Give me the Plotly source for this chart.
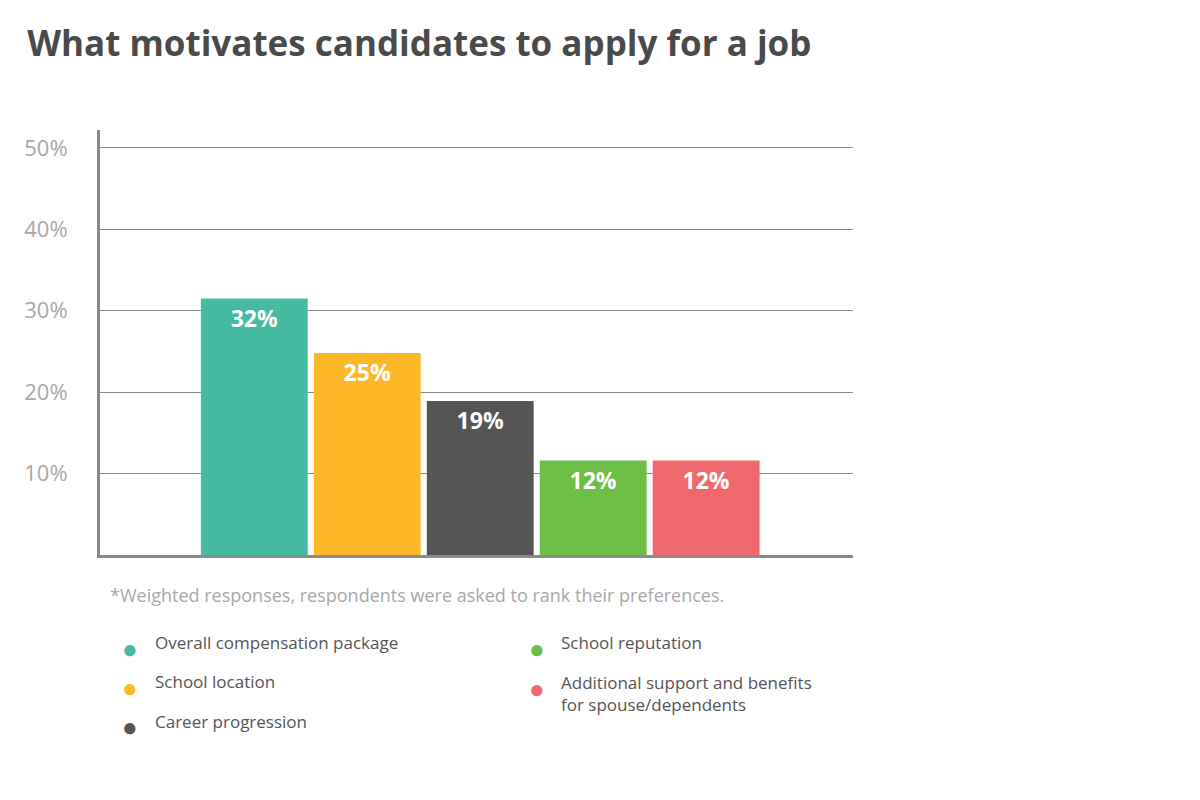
import plotly.graph_objects as go

# data
categories = ["Overall compensation package", "School location", "Career progression",
              "School reputation", "Additional support and benefits<br>for spouse/dependents"]
values = [31.5, 24.8, 18.9, 11.6, 11.6]
labels = ["32%", "25%", "19%", "12%", "12%"]
colors = ["#45BBA2", "#FDB827", "#555555", "#6CBE45", "#EF686B"]
tick_vals = [10, 20, 30, 40, 50]
tick_text = ["10%", "20%", "30%", "40%", "50%"]

fig = go.Figure()
fig.add_trace(go.Bar(
    x=list(range(len(values))), y=values, width=0.946,
    marker=dict(color=colors, line=dict(width=0)),
    text=labels, textposition="inside", insidetextanchor="end",
    textfont=dict(family="Open Sans", size=23, color="white", weight="bold"),
    showlegend=False,
))

fig.update_layout(
    width=1200, height=800, template="plotly_white",
    paper_bgcolor="white", plot_bgcolor="white",
    margin=dict(l=92, r=355, t=122, b=253),
    font=dict(family="Open Sans", color="#a0a0a0"),
    title=dict(text="<b>What motivates candidates to apply for a job</b>",
               x=0.016, xanchor="left", y=0.955, yanchor="middle",
               font=dict(family="Open Sans", size=35, color="#4a4a4a")),
)
fig.update_xaxes(range=[-1.366, 5.30], showticklabels=False, showgrid=False,
                 zeroline=False, showline=True, linecolor="#8a8a8a", linewidth=3)
fig.update_yaxes(range=[0, 52.2], tickvals=tick_vals, ticktext=tick_text,
                 ticklabelstandoff=25, tickfont=dict(size=22, color="#a8a8a8"),
                 showgrid=True, gridcolor="#8a8a8a", gridwidth=1, zeroline=False,
                 showline=True, linecolor="#8a8a8a", linewidth=3)

fig.add_annotation(text="*Weighted responses, respondents were asked to rank their preferences.",
                   xref="paper", yref="paper", x=0.01, y=-0.095, xanchor="left", yanchor="middle",
                   showarrow=False, font=dict(size=18, color="#a8a8a8"))

# legend
leg_pos = [(0.04, -0.175), (0.04, -0.267), (0.04, -0.359), (0.58, -0.175), (0.58, -0.269)]
for name, col, (lx, ly) in zip(categories, colors, leg_pos):
    fig.add_annotation(text="●", xref="paper", yref="paper", x=lx, y=ly + 0.004,
                       xanchor="center", yanchor="top", showarrow=False,
                       font=dict(size=26, color=col))
    fig.add_annotation(text=name, xref="paper", yref="paper", x=lx + 0.03, y=ly,
                       xanchor="left", yanchor="top", align="left", showarrow=False,
                       font=dict(size=17, color="#555555"))

fig.write_html("out.html")
